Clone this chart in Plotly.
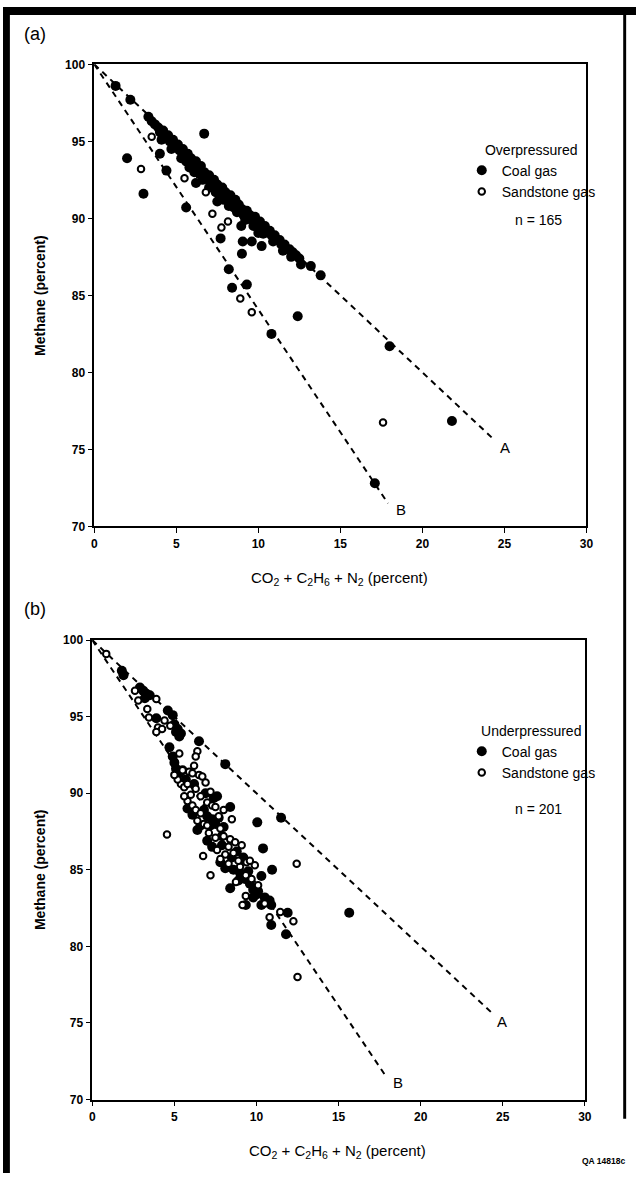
import plotly.graph_objects as go

W, H = 643, 1180

# ---------------- data ----------------
x_ticks = [0, 5, 10, 15, 20, 25, 30]
y_ticks = [70, 75, 80, 85, 90, 95, 100]

# Panel (a) overpressured, coal gas
a_coal_x = [3.3, 3.5, 3.7, 3.9, 4.0, 4.2, 4.3, 4.5, 4.6, 4.8, 4.9, 5.1, 5.2, 5.4, 5.5, 5.7,
            5.6, 5.9, 6.0, 6.2, 6.3, 6.5, 6.4, 6.7, 6.8, 7.0, 7.1, 7.3, 7.2, 7.5, 7.6, 7.8,
            7.7, 8.0, 8.1, 8.3, 8.4, 8.6, 8.5, 8.8, 9.0, 9.1, 9.3, 9.5, 9.6, 9.8, 9.9, 10.1,
            10.2, 10.4, 10.5, 10.7, 10.8, 11.0, 11.1, 11.3, 11.4, 11.6, 11.7, 11.9, 12.1, 12.3,
            12.5, 13.2, 13.8,
            4.1, 4.7, 5.3, 5.8, 6.1, 6.6, 7.0, 7.4, 7.9, 8.2, 8.7, 9.2, 9.7, 10.3, 10.9, 11.5,
            12.0, 12.6, 6.2, 7.5,
            1.3, 2.2, 2.0, 3.0, 4.0, 4.4, 6.7, 5.6, 7.7, 8.96, 9.05, 9.6, 10.0, 10.2, 9.0, 8.2,
            8.4, 9.3, 12.4, 10.8, 18.0, 21.8, 17.1]
a_coal_y = [96.6, 96.3, 96.1, 95.9, 95.6, 95.7, 95.3, 95.4, 95.0, 95.1, 94.7, 94.8, 94.4, 94.5, 94.1, 94.2,
            93.7, 93.9, 93.5, 93.7, 93.2, 93.4, 92.9, 93.0, 92.6, 92.8, 92.3, 92.5, 92.0, 92.2, 91.8, 92.0,
            91.4, 91.7, 91.2, 91.5, 91.0, 91.2, 90.7, 90.9, 90.6, 90.2, 90.5, 90.2, 89.9, 90.1, 89.7, 89.8,
            89.4, 89.5, 89.1, 89.2, 88.9, 88.9, 88.6, 88.6, 88.3, 88.3, 88.0, 88.0, 87.8, 87.6,
            87.4, 86.9, 86.3,
            95.1, 94.5, 93.9, 93.3, 93.0, 92.5, 92.0, 91.7, 91.2, 90.8, 90.4, 89.9, 89.5, 89.0, 88.5, 87.9,
            87.5, 87.0, 92.3, 91.1,
            98.6, 97.7, 93.9, 91.6, 94.2, 93.1, 95.5, 90.7, 88.7, 89.5, 88.5, 88.5, 89.05, 88.2, 87.7, 86.7,
            85.5, 85.7, 83.65, 82.5, 81.7, 76.85, 72.8]

# Panel (a) overpressured, sandstone gas
a_sand_x = [3.5, 2.85, 5.5, 6.8, 7.2, 8.15, 7.75, 8.9, 9.6, 17.6]
a_sand_y = [95.3, 93.2, 92.6, 91.7, 90.3, 89.8, 89.4, 84.8, 83.9, 76.75]

# Panel (b) underpressured, coal gas
b_coal_x = [1.8, 1.9, 2.9, 3.1, 3.3, 3.5, 3.2, 3.9, 4.6, 4.9, 5.0, 5.2, 5.4, 5.3, 5.1, 4.7,
            4.9, 5.0, 5.1, 5.3, 5.5, 6.5, 8.1, 6.9, 7.4, 7.6, 8.4, 6.8, 7.0, 7.3, 7.5, 7.7,
            8.0, 7.2, 6.4, 7.9, 8.2, 8.6, 9.0, 9.5, 7.8, 8.1, 8.4, 9.8, 10.0, 9.8, 9.35, 10.3,
            10.9, 10.9, 11.9, 11.8, 15.65, 10.05, 10.4, 10.95, 10.3, 11.5, 5.7, 6.2, 7.0, 8.8,
            9.2, 8.9, 9.6, 10.5, 10.8, 5.8, 6.1, 6.6, 7.3, 7.9, 8.5, 9.3, 10.1]
b_coal_y = [98.0, 97.7, 96.9, 96.7, 96.5, 96.4, 96.2, 94.9, 95.4, 95.1, 94.5, 94.2, 93.9, 93.7, 94.0, 93.0,
            92.4, 92.0, 91.6, 91.3, 91.5, 93.4, 91.9, 90.0, 89.7, 89.8, 89.1, 88.9, 88.5, 88.3, 88.0, 88.4,
            87.8, 87.9, 87.6, 87.2, 85.2, 85.0, 84.8, 84.9, 85.5, 85.1, 83.8, 83.7, 83.4, 83.2, 82.7, 82.7,
            82.7, 81.4, 82.2, 80.8, 82.2, 88.1, 86.4, 85.0, 84.6, 88.4, 90.9, 90.6, 86.9, 86.2,
            85.8, 84.3, 84.1, 83.2, 83.0, 89.0, 88.6, 87.9, 86.5, 86.6, 85.8, 84.4, 83.6]

# Panel (b) underpressured, sandstone gas
b_sand_x = [0.85, 2.6, 2.8, 3.9, 3.35, 3.45, 4.4, 4.0, 4.25, 3.9, 4.75, 6.4, 6.3, 5.3, 5.5, 5.9,
            6.1, 6.5, 6.7, 5.4, 5.6, 5.8, 6.3, 6.0, 6.6, 5.8, 6.1, 6.3, 6.6, 7.0, 7.3, 7.5,
            8.0, 8.5, 7.1, 7.5, 8.0, 8.4, 8.7, 7.6, 8.1, 8.6, 9.1, 7.8, 9.4, 9.9, 4.55, 6.75,
            7.2, 8.75, 9.35, 9.35, 9.15, 10.8, 11.45, 12.25, 12.5, 12.45, 9.6, 5.2, 6.9, 7.2,
            7.7, 6.8, 8.3, 9.0, 10.1, 10.5, 5.0, 5.6, 6.4, 7.0, 7.8, 8.3, 8.9, 9.7, 6.2]
b_sand_y = [99.1, 96.7, 96.05, 96.15, 95.5, 94.95, 94.75, 94.3, 94.2, 94.0, 94.4, 92.75, 92.4, 92.6, 91.5, 91.4,
            91.3, 91.2, 91.1, 90.6, 90.4, 90.6, 90.3, 89.9, 89.8, 89.5, 89.2, 88.9, 88.7, 89.4, 89.2, 89.1,
            88.9, 88.3, 87.4, 87.1, 87.2, 87.0, 86.8, 86.3, 86.0, 86.1, 86.6, 85.7, 85.5, 85.3, 87.3, 85.9,
            84.65, 84.2, 84.65, 83.3, 82.7, 81.9, 82.25, 81.65, 78.0, 85.4, 85.6, 90.9, 90.7, 90.1,
            88.5, 88.0, 86.5, 85.2, 84.0, 82.8, 91.2, 89.8, 88.2, 87.9, 87.7, 85.4, 85.6, 84.4, 91.8]

# Mixing lines A and B
line_a_x = [0, 24.4]
line_a_y = [100, 75.6]
line_b_x = [0, 17.9]
line_b_y = [100, 71.5]

# ---------------- figure ----------------
FONT = "Liberation Sans, Arial, Helvetica, sans-serif"
fig = go.Figure()

def add_panel(xa, ya, coal_x, coal_y, sand_x, sand_y, legend):
    for lx, ly in ((line_a_x, line_a_y), (line_b_x, line_b_y)):
        fig.add_trace(go.Scatter(x=lx, y=ly, mode="lines", xaxis=xa, yaxis=ya,
                                 line=dict(color="black", width=2, dash="6px,5px"),
                                 showlegend=False, hoverinfo="skip"))
    fig.add_trace(go.Scatter(x=coal_x, y=coal_y, mode="markers", xaxis=xa, yaxis=ya,
                             name="Coal gas", legend=legend,
                             marker=dict(symbol="circle", size=10, color="black",
                                         line=dict(width=0))))
    fig.add_trace(go.Scatter(x=sand_x, y=sand_y, mode="markers", xaxis=xa, yaxis=ya,
                             name="Sandstone gas", legend=legend,
                             marker=dict(symbol="circle", size=6.5, color="white",
                                         line=dict(width=2, color="black"))))

add_panel("x", "y", a_coal_x, a_coal_y, a_sand_x, a_sand_y, "legend")
add_panel("x2", "y2", b_coal_x, b_coal_y, b_sand_x, b_sand_y, "legend2")

TICKFONT = dict(family=FONT, size=12, color="black", weight="bold")

def xaxis(domain, anchor):
    return dict(domain=domain, anchor=anchor, range=[0, 30], tickvals=x_ticks,
                showline=True, mirror=True, linecolor="black", linewidth=1.5,
                ticks="outside", ticklen=5, tickwidth=1.2, tickcolor="black",
                showgrid=False, zeroline=False, tickfont=TICKFONT)

def yaxis(domain, anchor):
    return dict(domain=domain, anchor=anchor, range=[70, 100], tickvals=y_ticks,
                showline=True, mirror=True, linecolor="black", linewidth=1.5,
                ticks="outside", ticklen=5, tickwidth=1.2, tickcolor="black",
                showgrid=False, zeroline=False, tickfont=TICKFONT)

xa_dom = [92.7 / W, 592.7 / W]
ya_dom = [(H - 525.7) / H, (H - 58) / H]
xb_dom = [90.7 / W, 591.0 / W]
yb_dom = [(H - 1105.7) / H, (H - 640.7) / H]

legend_common = dict(xanchor="left", yanchor="top", bgcolor="rgba(0,0,0,0)",
                     font=dict(family=FONT, size=14, color="black"),
                     itemsizing="trace", tracegroupgap=0)

xtitle = "CO<sub>2</sub> + C<sub>2</sub>H<sub>6</sub> + N<sub>2</sub> (percent)"

def pann(text, px, py, size, xanchor="center", **kw):
    return dict(text=text, x=px / W, y=1 - py / H, xref="paper", yref="paper",
                xanchor=xanchor, yanchor="middle", showarrow=False,
                font=dict(family=FONT, size=size, color="black"), **kw)

def dann(text, x, y, ax, size):
    return dict(text=text, x=x, y=y, xref="x" + ax, yref="y" + ax, showarrow=False,
                xanchor="center", yanchor="middle",
                font=dict(family=FONT, size=size, color="black"))

fig.update_layout(
    width=W, height=H, margin=dict(l=0, r=0, t=0, b=0),
    paper_bgcolor="white", plot_bgcolor="white",
    font=dict(family=FONT, color="black"),
    xaxis=xaxis(xa_dom, "y"), yaxis=yaxis(ya_dom, "x"),
    xaxis2=xaxis(xb_dom, "y2"), yaxis2=yaxis(yb_dom, "x2"),
    legend=dict(x=466 / W, y=1 - 131 / H,
                title=dict(text="Overpressured", side="top center",
                           font=dict(family=FONT, size=14, color="black")),
                **legend_common),
    legend2=dict(x=466 / W, y=1 - 719 / H,
                 title=dict(text="Underpressured", side="top center",
                            font=dict(family=FONT, size=14, color="black")),
                 **legend_common),
    shapes=[
        dict(type="rect", xref="paper", yref="paper", x0=0, x1=7 / W, y0=0, y1=1,
             fillcolor="black", line=dict(width=0)),
        dict(type="rect", xref="paper", yref="paper", x0=0, x1=1, y0=1 - 8 / H, y1=1,
             fillcolor="black", line=dict(width=0)),
        dict(type="rect", xref="paper", yref="paper", x0=630 / W, x1=633 / W,
             y0=1 - 1125 / H, y1=1, fillcolor="black", line=dict(width=0)),
    ],
    annotations=[
        pann("(a)", 33, 27, 18),
        pann("(b)", 33, 609, 18),
        pann(xtitle, 342, 578, 15),
        pann(xtitle, 340, 1158, 15),
        pann("<b>Methane (percent)</b>", 37, 292, 14, textangle=-90),
        pann("<b>Methane (percent)</b>", 37, 873, 14, textangle=-90),
        pann("<b>QA 14818c</b>", 634, 1168, 8.5, xanchor="right"),
        dann("n = 165", 27.1, 89.9, "", 14),
        dann("n = 201", 27.2, 88.95, "2", 14),
        dann("A", 25.05, 75.1, "", 15),
        dann("B", 18.7, 71.1, "", 15),
        dann("A", 24.95, 75.1, "2", 15),
        dann("B", 18.65, 71.1, "2", 15),
    ],
)

fig.write_html("out.html", config={"displayModeBar": False},
               post_script="document.body.style.margin='0px';")
